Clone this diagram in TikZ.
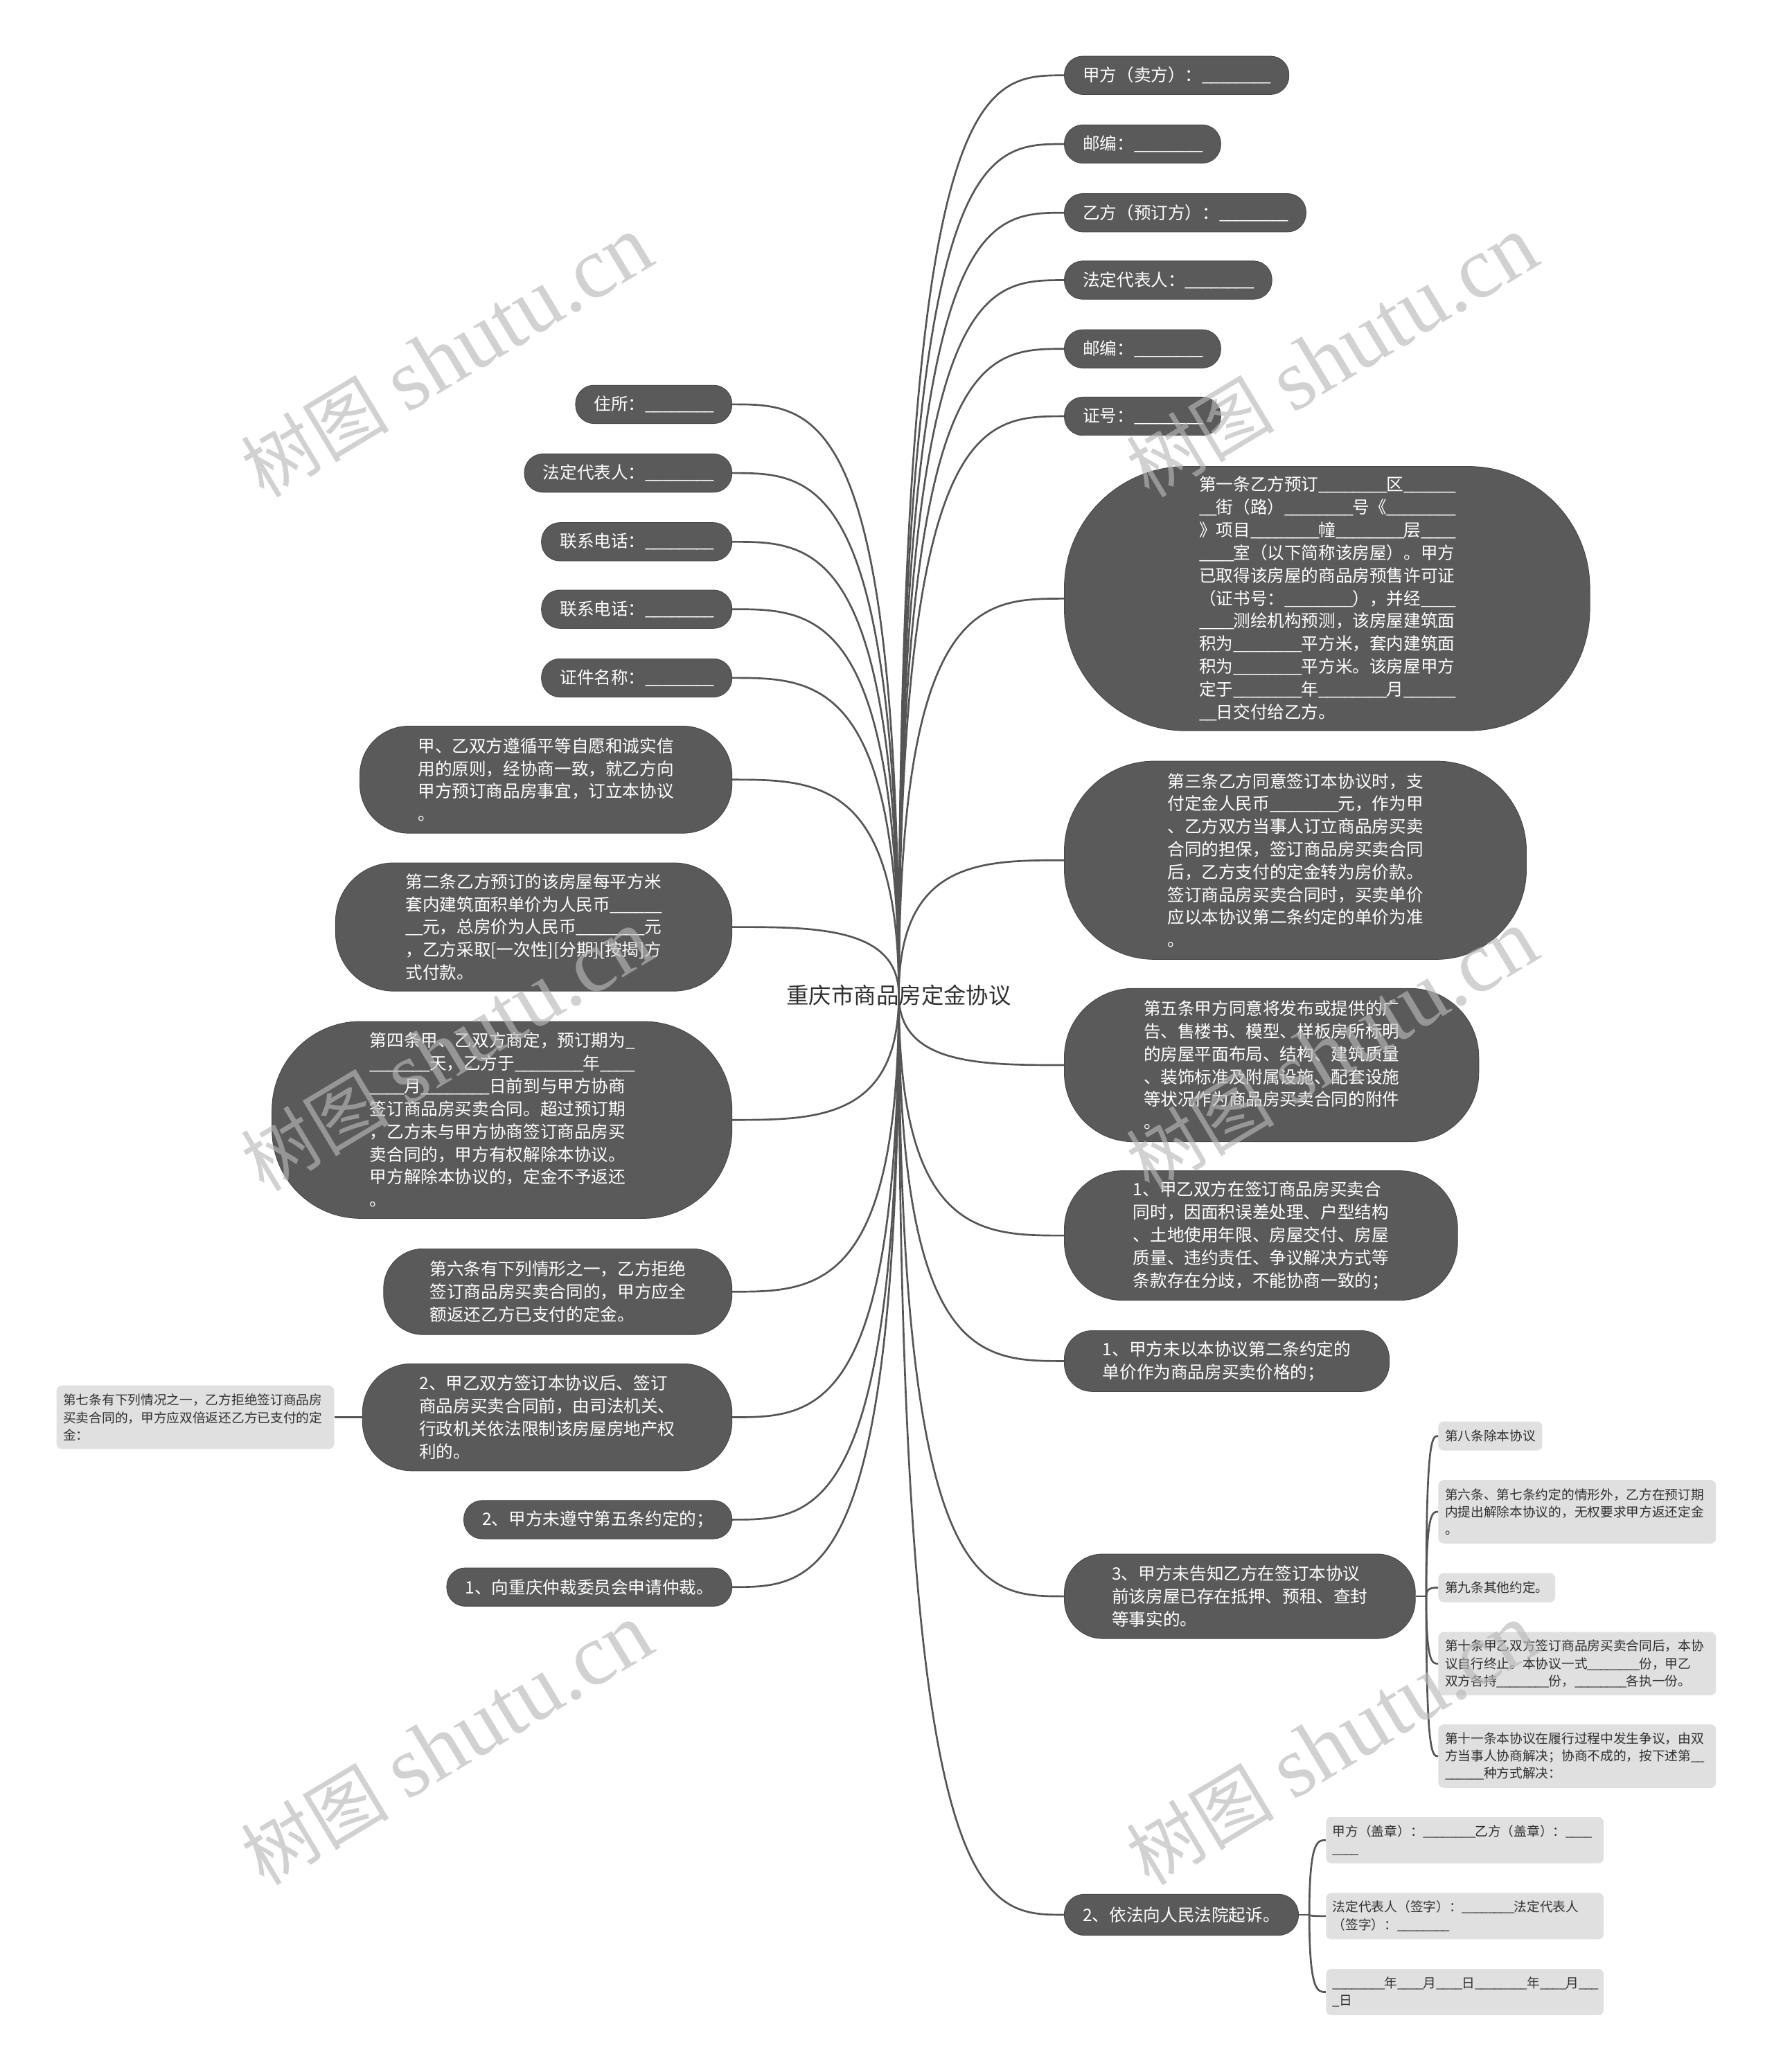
\documentclass[tikz,border=0pt]{standalone}
\usepackage{fontspec}
\setmainfont{Noto Sans CJK SC}
\newfontfamily\latinserif{Liberation Serif}
\usepackage{tikz}
\usetikzlibrary{calc}
\usepackage{xcolor}
\definecolor{topicgray}{RGB}{90,90,90}
\definecolor{edgegray}{RGB}{85,85,85}
\definecolor{leafgray}{RGB}{224,224,224}
\definecolor{inkgray}{RGB}{48,48,48}
\definecolor{markgray}{RGB}{184,184,184}

\newcommand{\blank}[1]{\foreach \k in {1,...,#1}{\makebox[0.5em][l]{\_}}}

\tikzset{
  topic/.style={fill=topicgray, draw=topicgray!80!black, line width=0.5pt, text=white,
    font=\fontsize{12.9}{17.2}\selectfont, align=left, inner ysep=0pt},
  pill/.style={topic, inner xsep=14pt, minimum height=29pt, rounded corners=14pt},
  leaf/.style={fill=leafgray, text=inkgray, font=\fontsize{9.8}{13.2}\selectfont,
    align=left, inner xsep=5pt, inner ysep=0pt, rounded corners=4pt},
  wire/.style={draw=edgegray, line width=1.4pt},
  link/.style={to path={.. controls (\tikztostart |- \tikztotarget)
    and ($(\tikztostart |- \tikztotarget)!0.5!(\tikztotarget)$) .. (\tikztotarget)}},
}

\begin{document}
\begin{tikzpicture}[x=1pt, y=-1pt]
  \fill[white] (0,0) rectangle (1342,1568);
  \useasboundingbox (0,0) rectangle (1342,1568);
  \coordinate (hub) at (680,753);

  % contact fields, right
  \foreach \y/\t [count=\i] in {57/甲方（卖方）：\blank{8}, 109/邮编：\blank{8},
      161/乙方（预订方）：\blank{8}, 212/法定代表人：\blank{8}, 264/邮编：\blank{8},
      315/证号：\blank{8}}{
    \node[pill, anchor=west] (r\i) at (805,\y) {\t};
    \draw[wire] (hub) to[link] (r\i.west);
  }
  % contact fields, left
  \foreach \y/\t [count=\i] in {306/住所：\blank{8}, 358/法定代表人：\blank{8},
      410/联系电话：\blank{8}, 461/联系电话：\blank{8}, 513/证件名称：\blank{8}}{
    \node[pill, anchor=east] (l\i) at (554,\y) {\t};
    \draw[wire] (hub) to[link] (l\i.east);
  }

  % clauses, right
  \node[topic, anchor=west, inner xsep=102pt, minimum height=200pt, rounded corners=92pt] (r7) at (805,453)
    {第一条乙方预订\blank{8}区\blank{6}\\
     \blank{2}街（路）\blank{8}号《\blank{8}\\
     》项目\blank{8}幢\blank{8}层\blank{4}\\
     \blank{4}室（以下简称该房屋）。甲方\\
     已取得该房屋的商品房预售许可证\\
     （证书号：\blank{8}），并经\blank{4}\\
     \blank{4}测绘机构预测，该房屋建筑面\\
     积为\blank{8}平方米，套内建筑面\\
     积为\blank{8}平方米。该房屋甲方\\
     定于\blank{8}年\blank{8}月\blank{6}\\
     \blank{2}日交付给乙方。};
  \node[topic, anchor=west, inner xsep=78pt, minimum height=150pt, rounded corners=68pt] (r8) at (805,651)
    {第三条乙方同意签订本协议时，支\\
     付定金人民币\blank{8}元，作为甲\\
     、乙方双方当事人订立商品房买卖\\
     合同的担保，签订商品房买卖合同\\
     后，乙方支付的定金转为房价款。\\
     签订商品房买卖合同时，买卖单价\\
     应以本协议第二条约定的单价为准\\
     。};
  \node[topic, anchor=west, inner xsep=60pt, minimum height=116pt, rounded corners=52pt] (r9) at (805,806)
    {第五条甲方同意将发布或提供的广\\
     告、售楼书、模型、样板房所标明\\
     的房屋平面布局、结构、建筑质量\\
     、装饰标准及附属设施、配套设施\\
     等状况作为商品房买卖合同的附件\\
     。};
  \node[topic, anchor=west, inner xsep=52pt, minimum height=98pt, rounded corners=44pt] (r10) at (805,935)
    {1、甲乙双方在签订商品房买卖合\\
     同时，因面积误差处理、户型结构\\
     、土地使用年限、房屋交付、房屋\\
     质量、违约责任、争议解决方式等\\
     条款存在分歧，不能协商一致的；};
  \node[topic, anchor=west, inner xsep=29pt, minimum height=46pt, rounded corners=21pt] (r11) at (805,1030)
    {1、甲方未以本协议第二条约定的\\
     单价作为商品房买卖价格的；};
  \node[topic, anchor=west, inner xsep=36pt, minimum height=64pt, rounded corners=29pt] (r12) at (805,1208)
    {3、甲方未告知乙方在签订本协议\\
     前该房屋已存在抵押、预租、查封\\
     等事实的。};
  \node[pill, anchor=west, minimum height=31pt, rounded corners=15pt] (r13) at (805,1449)
    {2、依法向人民法院起诉。};
  \foreach \n in {7,...,13}
    \draw[wire] (hub) to[link] (r\n.west);

  % clauses, left
  \node[topic, anchor=east, inner xsep=44pt, minimum height=81pt, rounded corners=37pt] (l6) at (554,590)
    {甲、乙双方遵循平等自愿和诚实信\\
     用的原则，经协商一致，就乙方向\\
     甲方预订商品房事宜，订立本协议\\
     。};
  \node[topic, anchor=east, inner xsep=53pt, minimum height=97pt, rounded corners=44pt] (l7) at (554,701.5)
    {第二条乙方预订的该房屋每平方米\\
     套内建筑面积单价为人民币\blank{6}\\
     \blank{2}元，总房价为人民币\blank{8}元\\
     ，乙方采取[一次性][分期][按揭]方\\
     式付款。};
  \node[topic, anchor=east, inner xsep=74pt, minimum height=149pt, rounded corners=67pt] (l8) at (554,847.5)
    {第四条甲、乙双方商定，预订期为\blank{1}\\
     \blank{7}天，乙方于\blank{8}年\blank{4}\\
     \blank{4}月\blank{8}日前到与甲方协商\\
     签订商品房买卖合同。超过预订期\\
     ，乙方未与甲方协商签订商品房买\\
     卖合同的，甲方有权解除本协议。\\
     甲方解除本协议的，定金不予返还\\
     。};
  \node[topic, anchor=east, inner xsep=35pt, minimum height=65pt, rounded corners=30pt] (l9) at (554,977.5)
    {第六条有下列情形之一，乙方拒绝\\
     签订商品房买卖合同的，甲方应全\\
     额返还乙方已支付的定金。};
  \node[topic, anchor=east, inner xsep=43pt, minimum height=81pt, rounded corners=37pt] (l10) at (554,1072.5)
    {2、甲乙双方签订本协议后、签订\\
     商品房买卖合同前，由司法机关、\\
     行政机关依法限制该房屋房地产权\\
     利的。};
  \node[pill, anchor=east] (l11) at (554,1150) {2、甲方未遵守第五条约定的；};
  \node[pill, anchor=east] (l12) at (554,1201) {1、向重庆仲裁委员会申请仲裁。};
  \foreach \n in {6,...,12}
    \draw[wire] (hub) to[link] (l\n.east);

  % sub items
  \node[leaf, anchor=east, text width=200pt, minimum height=48pt] (l10a) at (253,1072.5)
    {第七条有下列情况之一，乙方拒绝签订商品房\\
     买卖合同的，甲方应双倍返还乙方已支付的定\\
     金：};
  \draw[wire] (l10.west) -- (l10a.east);

  \node[leaf, anchor=west, minimum height=22pt] (r12a) at (1088,1086.7) {第八条除本协议};
  \node[leaf, anchor=west, text width=200pt, minimum height=48pt] (r12b) at (1088,1144)
    {第六条、第七条约定的情形外，乙方在预订期\\
     内提出解除本协议的，无权要求甲方返还定金\\
     。};
  \node[leaf, anchor=west, minimum height=22pt] (r12c) at (1088,1201.5) {第九条其他约定。};
  \node[leaf, anchor=west, text width=200pt, minimum height=48pt] (r12d) at (1088,1259)
    {第十条甲乙双方签订商品房买卖合同后，本协\\
     议自行终止。本协议一式\blank{8}份，甲乙\\
     双方各持\blank{8}份，\blank{8}各执一份。};
  \node[leaf, anchor=west, text width=200pt, minimum height=48pt] (r12e) at (1088,1329)
    {第十一条本协议在履行过程中发生争议，由双\\
     方当事人协商解决；协商不成的，按下述第\blank{2}\\
     \blank{6}种方式解决：};
  \coordinate (f12) at ($(r12.east)+(8,0)$);
  \draw[wire] (r12.east) -- (f12);
  \foreach \c in {a,...,e}
    \draw[wire] (f12) to[link] (r12\c.west);

  \node[leaf, anchor=west, text width=200pt, minimum height=35pt] (r13a) at (1003,1392.5)
    {甲方（盖章）：\blank{8}乙方（盖章）：\blank{4}\\
     \blank{4}};
  \node[leaf, anchor=west, text width=200pt, minimum height=35pt] (r13b) at (1003,1450)
    {法定代表人（签字）：\blank{8}法定代表人\\
     （签字）：\blank{8}};
  \node[leaf, anchor=west, text width=200pt, minimum height=35pt] (r13c) at (1003,1507.5)
    {\blank{8}年\blank{4}月\blank{4}日\blank{8}年\blank{4}月\blank{3}\\
     \blank{1}日};
  \coordinate (f13) at ($(r13.east)+(8,0)$);
  \draw[wire] (r13.east) -- (f13);
  \foreach \c in {a,...,c}
    \draw[wire] (f13) to[link] (r13\c.west);

  \node[font=\fontsize{17}{20}\selectfont, text=inkgray] (root) at (hub) {重庆市商品房定金协议};

  % watermark
  \foreach \wx/\wy [count=\i] in {338/270, 1008/270, 338/795, 1008/795, 338/1320, 1008/1320}
    \node[text=markgray, opacity=0.64, rotate=31] (wm\i) at (\wx,\wy)
      {\fontsize{56}{60}\selectfont 树图\hspace{14pt}{\latinserif\fontsize{66}{70}\selectfont shutu.cn}};
\end{tikzpicture}
\end{document}
